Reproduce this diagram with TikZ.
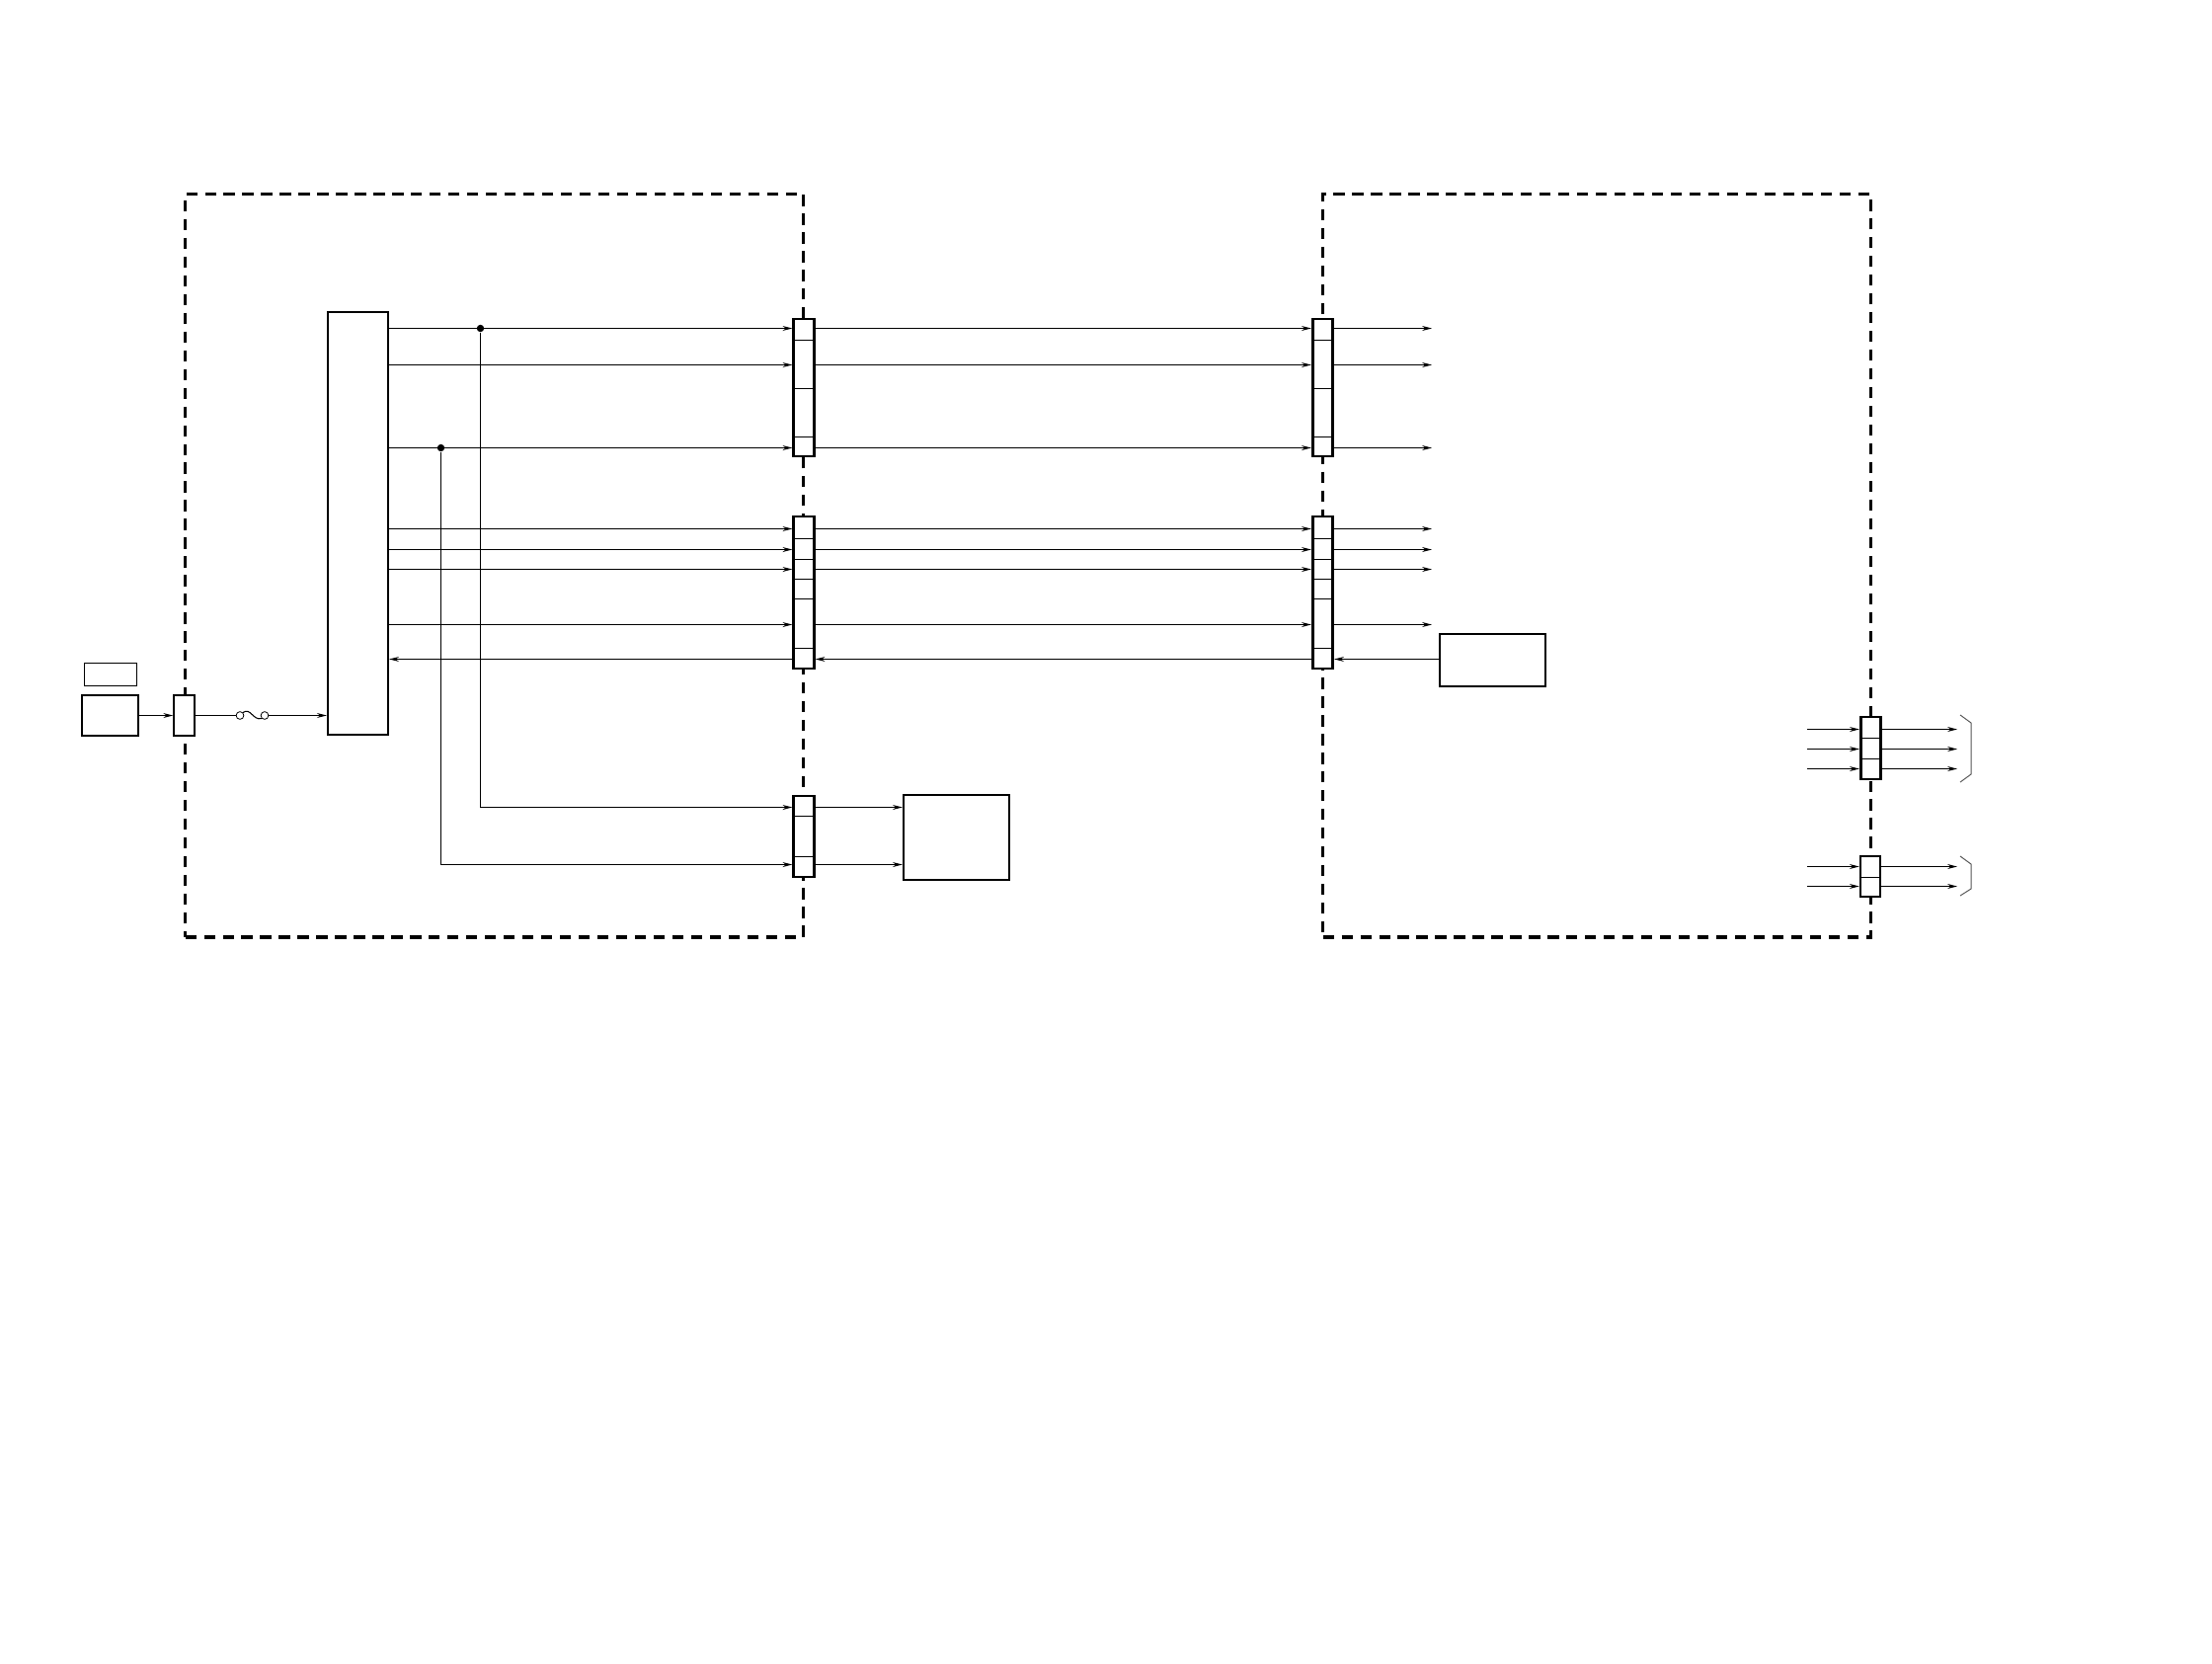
\documentclass[tikz,border=0pt]{standalone}
\usetikzlibrary{arrows.meta, positioning}
\definecolor{cgrey}{HTML}{555555}
\tikzset{
  every picture/.style={line width=0.6pt},
  box/.style={draw, fill=white, inner sep=0pt, line width=1.3pt},
  thinbox/.style={box, line width=0.85pt},
  strip/.style={box, line width=1.55pt, minimum width=0.41cm},
  frame/.style={draw, line width=1.8pt, dash pattern=on 6.4pt off 4.4pt, inner sep=0pt},
  arrow/.style={-{Stealth[length=5.6pt, width=2.8pt]}, line width=0.6pt},
  wire/.style={line width=0.6pt},
  divider/.style={line width=0.55pt},
  jdot/.style={circle, fill, inner sep=0pt, minimum size=4.2pt},
  fusepin/.style={circle, draw, fill=white, inner sep=0pt, minimum size=4.4pt, line width=0.45pt},
  plug/.style={draw=cgrey, line width=0.55pt},
}
\begin{document}
\begin{tikzpicture}[x=0.02cm, y=-0.02cm]
  \useasboundingbox (0,0) rectangle (2240,1684);
  % dashed boards
  \node[frame, minimum width=12.52cm, minimum height=15.06cm] (boardL) at (500.5,572.5) {};
  \node[frame, minimum width=11.1cm, minimum height=15.06cm] (boardR) at (1617,572.5) {};
  % input side
  \node[thinbox, line width=0.55pt, minimum width=1.06cm, minimum height=0.46cm] (tag) at (111.5,682.5) {};
  \node[box, minimum width=1.14cm, minimum height=0.82cm] (src) at (111.5,724.5) {};
  \node[thinbox, minimum width=0.42cm, minimum height=0.82cm] (inlet) at (186.5,724.5) {};
  \node[fusepin] (fuseA) at (243,724.5) {};
  \node[fusepin] (fuseB) at (268,724.5) {};
  \node[box, minimum width=1.22cm, minimum height=8.56cm] (pwr) at (362.5,530) {};
  % connector strips
  \node[strip, minimum height=2.78cm] (lconnA) at (814,392.5) {};
  \node[strip, minimum height=3.08cm] (lconnB) at (814,600) {};
  \node[strip, minimum height=1.64cm] (lconnC) at (814,847) {};
  \node[strip, minimum height=2.78cm] (rconnA) at (1339.5,392.5) {};
  \node[strip, minimum height=3.08cm] (rconnB) at (1339.5,600) {};
  \node[strip, minimum height=1.26cm] (oconnA) at (1894.5,757.5) {};
  \node[strip, line width=1.1pt, minimum height=0.82cm] (oconnB) at (1894,887.5) {};
  % other blocks
  \node[box, minimum width=2.14cm, minimum height=1.72cm] (load) at (968.5,848) {};
  \node[thinbox, minimum width=2.14cm, minimum height=1.06cm] (sens) at (1511.5,668.5) {};
  % free ends
  \coordinate (endR) at (1450,0);
  \coordinate (inO) at (1830,0);
  \coordinate (endO) at (1982,0);
  % strip dividers
  \draw[divider] (lconnA.west |- 0,344.5) -- (lconnA.east |- 0,344.5);
  \draw[divider] (lconnA.west |- 0,393.5) -- (lconnA.east |- 0,393.5);
  \draw[divider] (lconnA.west |- 0,442.5) -- (lconnA.east |- 0,442.5);
  \draw[divider] (rconnA.west |- 0,344.5) -- (rconnA.east |- 0,344.5);
  \draw[divider] (rconnA.west |- 0,393.5) -- (rconnA.east |- 0,393.5);
  \draw[divider] (rconnA.west |- 0,442.5) -- (rconnA.east |- 0,442.5);
  \draw[divider] (lconnB.west |- 0,545.5) -- (lconnB.east |- 0,545.5);
  \draw[divider] (lconnB.west |- 0,566.5) -- (lconnB.east |- 0,566.5);
  \draw[divider] (lconnB.west |- 0,586.5) -- (lconnB.east |- 0,586.5);
  \draw[divider] (lconnB.west |- 0,606.5) -- (lconnB.east |- 0,606.5);
  \draw[divider] (lconnB.west |- 0,656.5) -- (lconnB.east |- 0,656.5);
  \draw[divider] (rconnB.west |- 0,545.5) -- (rconnB.east |- 0,545.5);
  \draw[divider] (rconnB.west |- 0,566.5) -- (rconnB.east |- 0,566.5);
  \draw[divider] (rconnB.west |- 0,586.5) -- (rconnB.east |- 0,586.5);
  \draw[divider] (rconnB.west |- 0,606.5) -- (rconnB.east |- 0,606.5);
  \draw[divider] (rconnB.west |- 0,656.5) -- (rconnB.east |- 0,656.5);
  \draw[divider] (lconnC.west |- 0,826.5) -- (lconnC.east |- 0,826.5);
  \draw[divider] (lconnC.west |- 0,867.5) -- (lconnC.east |- 0,867.5);
  \draw[divider] (oconnA.west |- 0,747.5) -- (oconnA.east |- 0,747.5);
  \draw[divider] (oconnA.west |- 0,768.5) -- (oconnA.east |- 0,768.5);
  \draw[divider] (oconnB.west |- 0,888.5) -- (oconnB.east |- 0,888.5);
  % input wiring
  \draw[arrow] (src.east |- inlet) -- (inlet.west);
  \draw[wire] (inlet) -- (fuseA);
  \draw[wire] (fuseA.north east) .. controls (254,716) and (256,730) .. (fuseB.south west);
  \draw[arrow] (fuseB) -- (pwr.west |- fuseB);
  % first bundle
  \node[jdot] (tapA) at (486.5,332.5) {};
  \node[jdot] (tapB) at (446.5,453.5) {};
  \draw[arrow] (pwr.east |- 0,332.5) -- (lconnA.west |- 0,332.5);
  \draw[arrow] (pwr.east |- 0,369.5) -- (lconnA.west |- 0,369.5);
  \draw[arrow] (pwr.east |- 0,453.5) -- (lconnA.west |- 0,453.5);
  \draw[arrow] (lconnA.east |- 0,332.5) -- (rconnA.west |- 0,332.5);
  \draw[arrow] (lconnA.east |- 0,369.5) -- (rconnA.west |- 0,369.5);
  \draw[arrow] (lconnA.east |- 0,453.5) -- (rconnA.west |- 0,453.5);
  \draw[arrow] (rconnA.east |- 0,332.5) -- (endR |- 0,332.5);
  \draw[arrow] (rconnA.east |- 0,369.5) -- (endR |- 0,369.5);
  \draw[arrow] (rconnA.east |- 0,453.5) -- (endR |- 0,453.5);
  % second bundle
  \draw[arrow] (pwr.east |- 0,535.5) -- (lconnB.west |- 0,535.5);
  \draw[arrow] (pwr.east |- 0,556.5) -- (lconnB.west |- 0,556.5);
  \draw[arrow] (pwr.east |- 0,576.5) -- (lconnB.west |- 0,576.5);
  \draw[arrow] (pwr.east |- 0,632.5) -- (lconnB.west |- 0,632.5);
  \draw[arrow] (lconnB.east |- 0,535.5) -- (rconnB.west |- 0,535.5);
  \draw[arrow] (lconnB.east |- 0,556.5) -- (rconnB.west |- 0,556.5);
  \draw[arrow] (lconnB.east |- 0,576.5) -- (rconnB.west |- 0,576.5);
  \draw[arrow] (lconnB.east |- 0,632.5) -- (rconnB.west |- 0,632.5);
  \draw[arrow] (rconnB.east |- 0,535.5) -- (endR |- 0,535.5);
  \draw[arrow] (rconnB.east |- 0,556.5) -- (endR |- 0,556.5);
  \draw[arrow] (rconnB.east |- 0,576.5) -- (endR |- 0,576.5);
  \draw[arrow] (rconnB.east |- 0,632.5) -- (endR |- 0,632.5);
  % return line
  \draw[arrow] (sens.west |- 0,667.5) -- (rconnB.east |- 0,667.5);
  \draw[arrow] (rconnB.west |- 0,667.5) -- (lconnB.east |- 0,667.5);
  \draw[arrow] (lconnB.west |- 0,667.5) -- (pwr.east |- 0,667.5);
  % tapped lines
  \draw[arrow] (tapA) |- (lconnC.west |- 0,817.5);
  \draw[arrow] (tapB) |- (lconnC.west |- 0,875.5);
  \draw[arrow] (lconnC.east |- 0,817.5) -- (load.west |- 0,817.5);
  \draw[arrow] (lconnC.east |- 0,875.5) -- (load.west |- 0,875.5);
  % output side
  \draw[arrow] (inO |- 0,738.5) -- (oconnA.west |- 0,738.5);
  \draw[arrow] (inO |- 0,758.5) -- (oconnA.west |- 0,758.5);
  \draw[arrow] (inO |- 0,778.5) -- (oconnA.west |- 0,778.5);
  \draw[arrow] (oconnA.east |- 0,738.5) -- (endO |- 0,738.5);
  \draw[arrow] (oconnA.east |- 0,758.5) -- (endO |- 0,758.5);
  \draw[arrow] (oconnA.east |- 0,778.5) -- (endO |- 0,778.5);
  \draw[arrow] (inO |- 0,877.5) -- (oconnB.west |- 0,877.5);
  \draw[arrow] (inO |- 0,897.5) -- (oconnB.west |- 0,897.5);
  \draw[arrow] (oconnB.east |- 0,877.5) -- (endO |- 0,877.5);
  \draw[arrow] (oconnB.east |- 0,897.5) -- (endO |- 0,897.5);
  \draw[plug] (1985,724) -- (1996,732) -- (1996,784) -- (1985,792);
  \draw[plug] (1985,867) -- (1996,875) -- (1996,900) -- (1985,907);
\end{tikzpicture}
\end{document}
